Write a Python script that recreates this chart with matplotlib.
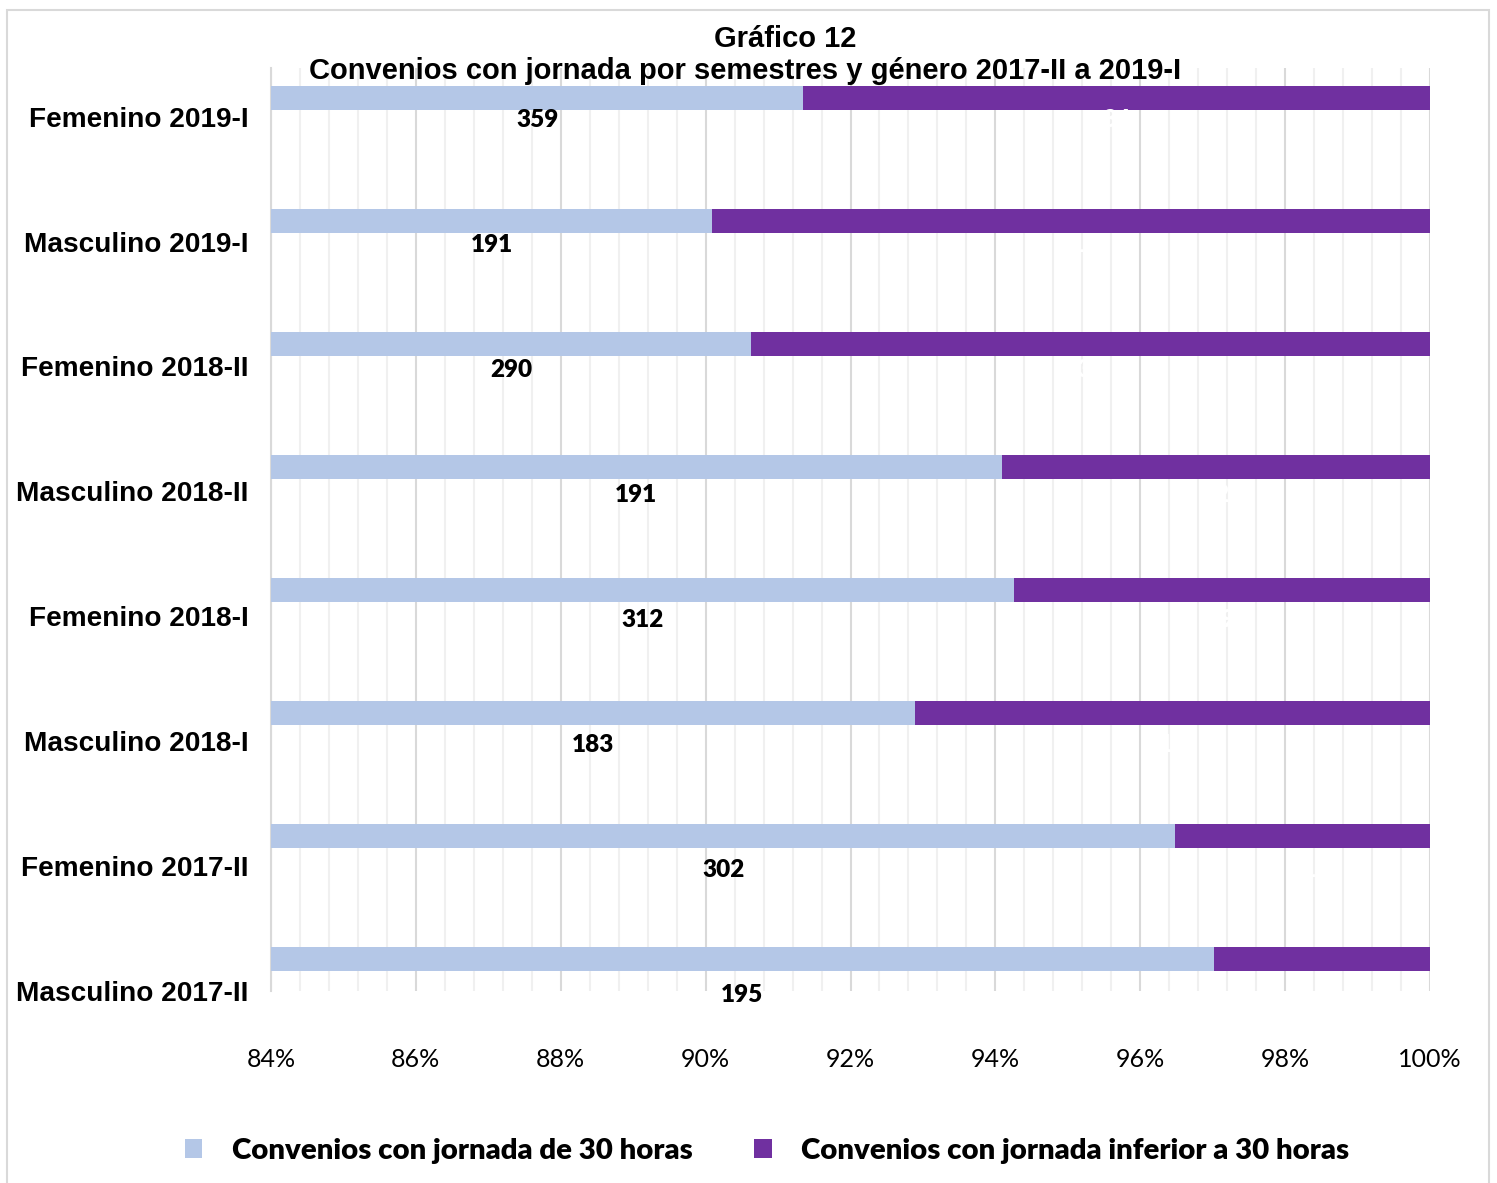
import numpy as np
import matplotlib
matplotlib.use('Agg')
import matplotlib.pyplot as plt
from matplotlib.patches import Rectangle
from matplotlib.ticker import MultipleLocator, FuncFormatter

# Categories, top to bottom as in the chart
categories = ['Femenino 2019-I', 'Masculino 2019-I', 'Femenino 2018-II', 'Masculino 2018-II',
              'Femenino 2018-I', 'Masculino 2018-I', 'Femenino 2017-II', 'Masculino 2017-II']
jornada_30 = [359, 191, 290, 191, 312, 183, 302, 195]
jornada_inferior = [34, 21, 30, 12, 19, 14, 11, 6]
series_names = ['Convenios con jornada de 30 horas', 'Convenios con jornada inferior a 30 horas']
x_ticks = [0.84, 0.86, 0.88, 0.90, 0.92, 0.94, 0.96, 0.98, 1.00]

c_light = '#B4C7E7'
c_purple = '#7030A0'
calibri_like = 'Lato'
arial = 'Liberation Sans'

a = np.array(jornada_30, dtype=float)
b = np.array(jornada_inferior, dtype=float)
tot = a + b
pa = a / tot
pb = b / tot

fig = plt.figure(figsize=(14.97, 11.83), dpi=100)
ax = fig.add_axes([271 / 1497, 1 - 991 / 1183, (1430 - 271) / 1497, (991 - 68) / 1183])

ypos = np.arange(len(categories))
bh = 0.195
ax.barh(ypos, pa, height=bh, color=c_light, label=series_names[0], zorder=3)
ax.barh(ypos, pb, left=pa, height=bh, color=c_purple, label=series_names[1], zorder=3)

xmin, xmax = x_ticks[0], x_ticks[-1]
ax.set_xlim(xmin, xmax)
ax.set_ylim(7.25, -0.24)

# labels sit slightly below the bars (as in the original)
lab_pos = ypos * 1.015 + 0.185
for i in range(len(categories)):
    xa = (xmin + pa[i]) / 2
    xb = (pa[i] + 1.0) / 2
    ax.text(xa, lab_pos[i], f'{jornada_30[i]}', ha='center', va='center',
            fontsize=17.5, fontweight='heavy', family=calibri_like, color='black', zorder=4)
    ax.text(xb, lab_pos[i], f'{jornada_inferior[i]}', ha='center', va='center',
            fontsize=17.5, fontweight='heavy', family=calibri_like, color='white', zorder=4)

ax.set_yticks(ypos * 1.015 + 0.155)
ax.set_yticklabels(categories, fontsize=20.2, fontweight='bold', family=arial)
ax.tick_params(axis='y', length=0, pad=16)

ax.set_xticks(x_ticks)
ax.xaxis.set_major_formatter(FuncFormatter(lambda v, p: f'{v * 100:.0f}%'))
ax.xaxis.set_minor_locator(MultipleLocator(0.004))
ax.tick_params(axis='x', which='both', length=0, pad=41, labelsize=18)
for t in ax.get_xticklabels():
    t.set_family(calibri_like)

ax.grid(axis='x', which='major', color='#d9d9d9', lw=1.5, zorder=0)
ax.grid(axis='x', which='minor', color='#f0f0f0', lw=1.5, zorder=0)
ax.grid(axis='y', visible=False)
for s in ['top', 'right', 'bottom']:
    ax.spines[s].set_visible(False)
ax.spines['left'].set_color('#d9d9d9')
ax.spines['left'].set_linewidth(1.5)

fig.text(785 / 1497, 1 - 39 / 1183, 'Gráfico 12', ha='center', va='center',
         fontsize=21, fontweight='bold', family=arial)
fig.text(745 / 1497, 1 - 71 / 1183, 'Convenios con jornada por semestres y género 2017-II a 2019-I',
         ha='center', va='center', fontsize=21, fontweight='bold', family=arial)

leg = fig.legend(loc='center', bbox_to_anchor=(767 / 1497, 1 - 1151 / 1183), ncol=2,
                 frameon=False, prop={'family': calibri_like, 'weight': 'heavy', 'size': 21.2},
                 handlelength=0.6, handleheight=0.6, handletextpad=1.0, columnspacing=2.1)

fig.patches.append(Rectangle((7 / 1497, -0.05), (1489 - 7) / 1497, 1.05 - 10 / 1183,
                             transform=fig.transFigure, fill=False, edgecolor='#d9d9d9', lw=1.5))

fig.savefig('out.png', dpi=100, facecolor='white')
